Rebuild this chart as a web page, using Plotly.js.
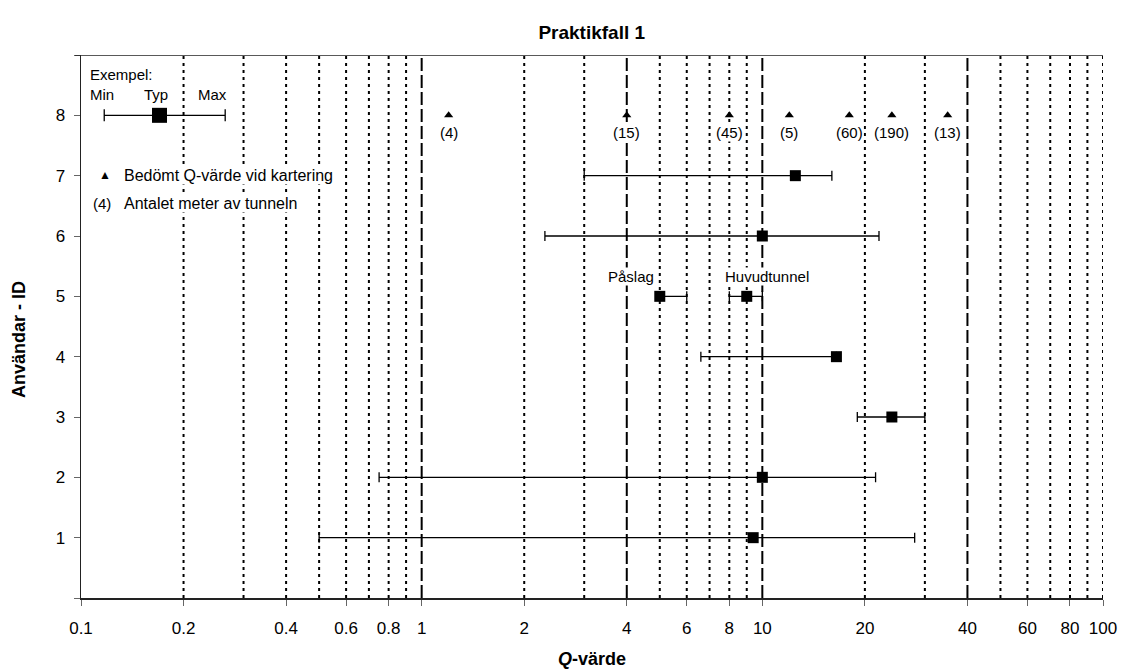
<!DOCTYPE html>
<html><head><meta charset="utf-8">
<script src="https://cdn.plot.ly/plotly-3.0.1.min.js"></script>
<style>body{margin:0;background:#fff}</style>
</head><body><div id="chart" style="width:1125px;height:671px"></div>
<script>
// ---- data ----
const userIds = [1, 2, 3, 4, 5, 5, 6, 7];
const qMin   = [0.5, 0.75, 19, 6.6, 5, 8, 2.3, 3.0];
const qTyp   = [9.4, 10, 24, 16.5, 5, 9, 10, 12.5];
const qMax   = [28, 21.5, 30, 16.5, 6, 10, 22, 16];

const mapId = 8;
const mapQ = [1.2, 4, 8, 12, 18, 24, 35];
const mapLen = ['(4)', '(15)', '(45)', '(5)', '(60)', '(190)', '(13)'];

const exMin = 0.117, exTyp = 0.17, exMax = 0.265, exId = 8;

const dashedGrid = [1, 4, 10, 40];
const dottedGrid = [0.2, 0.3, 0.4, 0.5, 0.6, 0.7, 0.8, 0.9, 2, 3, 5, 6, 7, 8, 9, 20, 30, 50, 60, 70, 80, 90, 100];
const xTicks = [0.1, 0.2, 0.4, 0.6, 0.8, 1, 2, 4, 6, 8, 10, 20, 40, 60, 80, 100];
const xTickText = ['0.1', '0.2', '0.4', '0.6', '0.8', '1', '2', '4', '6', '8', '10', '20', '40', '60', '80', '100'];
const yTicks = [0, 1, 2, 3, 4, 5, 6, 7, 8, 9];
const yTickText = ['', '1', '2', '3', '4', '5', '6', '7', '8', ''];

const FONT = 'Arial, "Liberation Sans", sans-serif';

const traces = [
  {
    type: 'scatter', mode: 'markers', x: qTyp, y: userIds,
    marker: {symbol: 'square', size: 11, color: '#000'},
    error_x: {type: 'data', symmetric: false,
      array: qMax.map((v, i) => v - qTyp[i]),
      arrayminus: qTyp.map((v, i) => v - qMin[i]),
      color: '#000', thickness: 1.3, width: 5},
    hoverinfo: 'x+y'
  },
  {
    type: 'scatter', mode: 'markers', x: [exTyp], y: [exId],
    marker: {symbol: 'square', size: 15, color: '#000'},
    error_x: {type: 'data', symmetric: false, array: [exMax - exTyp], arrayminus: [exTyp - exMin],
      color: '#000', thickness: 1.3, width: 6}
  },
  {
    type: 'scatter', mode: 'markers', x: mapQ, y: mapQ.map(() => mapId),
    marker: {symbol: 'triangle-up', size: 8, color: '#000'}
  }
];

const shapes = [];
dottedGrid.forEach(v => shapes.push({type: 'line', xref: 'x', yref: 'y', x0: v, x1: v, y0: 0, y1: 9,
  layer: 'below', line: {color: '#000', width: 2, dash: '3px,4px'}}));
dashedGrid.forEach(v => shapes.push({type: 'line', xref: 'x', yref: 'y', x0: v, x1: v, y0: 0, y1: 9,
  layer: 'below', line: {color: '#000', width: 2, dash: '13px,4px'}}));
// white box behind example legend
shapes.push({type: 'rect', xref: 'paper', yref: 'y', x0: 0.004, x1: 0.19, y0: 8.06, y1: 8.87,
  layer: 'below', fillcolor: '#fff', line: {width: 0}});
// top border
shapes.push({type: 'line', xref: 'paper', yref: 'y', x0: -0.006, x1: 1, y0: 9, y1: 9,
  line: {color: '#222', width: 1.5}});

const annotations = [];
mapQ.forEach((q, i) => annotations.push({x: Math.log10(q), y: mapId, xref: 'x', yref: 'y',
  text: mapLen[i], showarrow: false, yshift: -17, bgcolor: '#fff', borderpad: 0,
  font: {family: FONT, size: 15, color: '#000'}}));

const px = p => (p - 81) / 1022;
const py = p => (598 - p) / 543;
function note(text, x, y, anchor, size, bg) {
  annotations.push({xref: 'paper', yref: 'paper', x: px(x), y: py(y), xanchor: anchor, yanchor: 'middle',
    text: text, showarrow: false, bgcolor: bg ? '#fff' : 'rgba(0,0,0,0)', borderpad: 0,
    font: {family: FONT, size: size, color: '#000'}});
}
note('Exempel:', 89, 74, 'left', 15, false);
note('Min', 102, 94, 'center', 15, false);
note('Typ', 156, 94, 'center', 15, false);
note('Max', 212, 94, 'center', 15, false);
note('▲', 105, 175, 'center', 12, true);
note('Bedömt Q-värde vid kartering', 123, 175, 'left', 16, true);
note('(4)', 92, 204, 'left', 15, true);
note('Antalet meter av tunneln', 123, 204, 'left', 16, true);
note('Påslag', 631, 276, 'center', 15, true);
note('Huvudtunnel', 767, 276, 'center', 15, true);
// y-axis title (placed as in the reference, slightly below plot centre)
annotations.push({xref: 'paper', yref: 'paper', x: px(19), y: py(340), xanchor: 'center', yanchor: 'middle',
  textangle: -90, text: '<b>Användar - ID</b>', showarrow: false,
  font: {family: FONT, size: 18, color: '#000'}});

const layout = {
  width: 1125, height: 671,
  margin: {l: 81, r: 22, t: 55, b: 73},
  paper_bgcolor: '#fff', plot_bgcolor: '#fff',
  showlegend: false,
  font: {family: FONT, size: 17, color: '#000'},
  title: {text: '<b>Praktikfall 1</b>', x: 0.526, xanchor: 'center', y: 1 - 32 / 671, yanchor: 'middle',
    font: {family: FONT, size: 19, color: '#000'}},
  xaxis: {type: 'log', range: [-1, 2], tickvals: xTicks, ticktext: xTickText,
    showgrid: false, zeroline: false, showline: true, linecolor: '#222', linewidth: 1.5,
    ticks: 'outside', ticklen: 6, tickcolor: '#666', tickwidth: 1,
    ticklabelstandoff: 8,
    tickfont: {family: FONT, size: 17, color: '#000'},
    title: {text: '<b><i>Q</i>-värde</b>', standoff: 15, font: {family: FONT, size: 18, color: '#000'}}},
  yaxis: {range: [0, 9], tickvals: yTicks, ticktext: yTickText,
    showgrid: false, zeroline: false, showline: true, linecolor: '#222', linewidth: 1.5,
    ticks: 'outside', ticklen: 6, tickcolor: '#666', tickwidth: 1,
    ticklabelstandoff: 5,
    tickfont: {family: FONT, size: 17, color: '#000'}},
  shapes: shapes,
  annotations: annotations
};

Plotly.newPlot('chart', traces, layout, {displayModeBar: false, staticPlot: true});
</script></body></html>
